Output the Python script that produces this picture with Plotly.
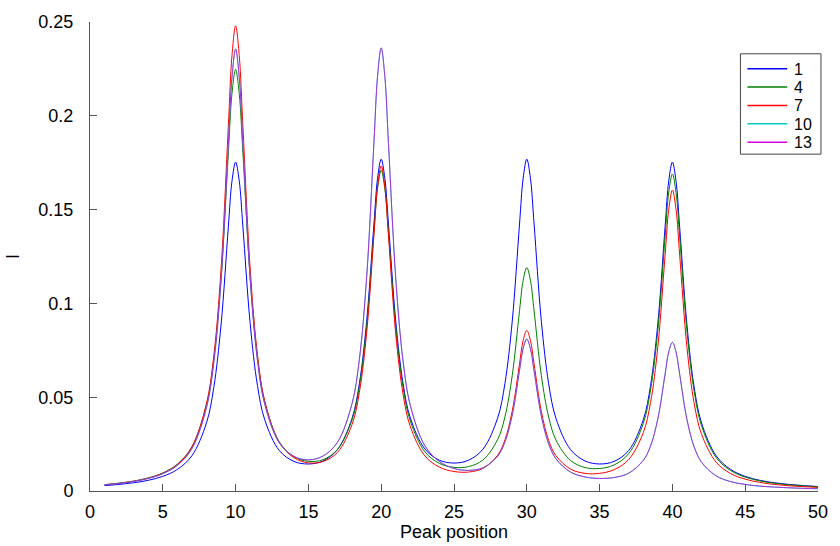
import plotly.graph_objects as go

# Peak position grid (denser sampling around the four peaks)
x_pos = [1, 2, 3, 4, 5, 6, 7,
         8, 8.5, 9, 9.5, 9.75, 10, 10.25, 10.5, 11, 11.5, 12,
         13, 14, 15, 16, 17,
         18, 18.5, 19, 19.5, 19.75, 20, 20.25, 20.5, 21, 21.5, 22,
         23, 24, 25, 26, 27,
         28, 28.5, 29, 29.5, 29.75, 30, 30.25, 30.5, 31, 31.5, 32,
         33, 34, 35, 36, 37,
         38, 38.5, 39, 39.5, 39.75, 40, 40.25, 40.5, 41, 41.5, 42,
         43, 44, 45, 46, 47, 48, 49, 50]

series_names = ["1", "4", "7", "10", "13"]

s1 = [0.0029, 0.0035, 0.0044, 0.0057, 0.0078, 0.0115, 0.0188,
      0.0363, 0.0551, 0.0885, 0.1406, 0.1651, 0.1753, 0.1653, 0.1410, 0.0893, 0.0563, 0.0380,
      0.0216, 0.0158, 0.0144, 0.0160, 0.0221,
      0.0388, 0.0573, 0.0904, 0.1423, 0.1667, 0.1769, 0.1667, 0.1423, 0.0905, 0.0574, 0.0390,
      0.0224, 0.0164, 0.0149, 0.0164, 0.0224,
      0.0390, 0.0574, 0.0905, 0.1423, 0.1667, 0.1769, 0.1667, 0.1423, 0.0904, 0.0573, 0.0388,
      0.0221, 0.0160, 0.0144, 0.0158, 0.0216,
      0.0380, 0.0563, 0.0893, 0.1410, 0.1653, 0.1753, 0.1651, 0.1406, 0.0885, 0.0551, 0.0363,
      0.0188, 0.0115, 0.0078, 0.0057, 0.0044, 0.0035, 0.0029, 0.0024]

s4 = [0.0034, 0.0042, 0.0053, 0.0070, 0.0096, 0.0143, 0.0236,
      0.0461, 0.0702, 0.1132, 0.1801, 0.2117, 0.2248, 0.2118, 0.1805, 0.1139, 0.0713, 0.0477,
      0.0262, 0.0183, 0.0158, 0.0167, 0.0222,
      0.0380, 0.0557, 0.0876, 0.1376, 0.1612, 0.1710, 0.1611, 0.1375, 0.0873, 0.0552, 0.0373,
      0.0209, 0.0147, 0.0126, 0.0130, 0.0166,
      0.0275, 0.0396, 0.0616, 0.0961, 0.1123, 0.1191, 0.1123, 0.0960, 0.0615, 0.0395, 0.0272,
      0.0163, 0.0125, 0.0120, 0.0139, 0.0199,
      0.0360, 0.0538, 0.0857, 0.1357, 0.1593, 0.1690, 0.1591, 0.1354, 0.0852, 0.0529, 0.0348,
      0.0179, 0.0109, 0.0074, 0.0054, 0.0041, 0.0033, 0.0027, 0.0023]

s7 = [0.0033, 0.0041, 0.0052, 0.0068, 0.0095, 0.0141, 0.0235,
      0.0466, 0.0718, 0.1182, 0.1943, 0.2319, 0.2480, 0.2321, 0.1946, 0.1188, 0.0728, 0.0480,
      0.0259, 0.0178, 0.0150, 0.0157, 0.0206,
      0.0355, 0.0525, 0.0842, 0.1365, 0.1623, 0.1733, 0.1622, 0.1362, 0.0836, 0.0517, 0.0343,
      0.0187, 0.0127, 0.0104, 0.0101, 0.0121,
      0.0191, 0.0273, 0.0426, 0.0678, 0.0803, 0.0856, 0.0803, 0.0677, 0.0424, 0.0270, 0.0188,
      0.0117, 0.0094, 0.0094, 0.0114, 0.0168,
      0.0311, 0.0472, 0.0769, 0.1259, 0.1501, 0.1604, 0.1500, 0.1257, 0.0765, 0.0465, 0.0303,
      0.0154, 0.0093, 0.0063, 0.0046, 0.0035, 0.0028, 0.0023, 0.0019]

s10 = [0.0033, 0.0040, 0.0051, 0.0067, 0.0092, 0.0137, 0.0226,
       0.0445, 0.0684, 0.1124, 0.1846, 0.2203, 0.2355, 0.2205, 0.1851, 0.1133, 0.0698, 0.0464,
       0.0257, 0.0185, 0.0166, 0.0186, 0.0260,
       0.0467, 0.0702, 0.1138, 0.1856, 0.2211, 0.2362, 0.2210, 0.1853, 0.1132, 0.0694, 0.0456,
       0.0241, 0.0157, 0.0120, 0.0110, 0.0124,
       0.0186, 0.0262, 0.0405, 0.0643, 0.0760, 0.0810, 0.0759, 0.0640, 0.0399, 0.0252, 0.0172,
       0.0101, 0.0075, 0.0067, 0.0072, 0.0095,
       0.0163, 0.0240, 0.0385, 0.0624, 0.0742, 0.0792, 0.0741, 0.0622, 0.0381, 0.0234, 0.0154,
       0.0081, 0.0050, 0.0035, 0.0026, 0.0021, 0.0017, 0.0014, 0.0012]

s13 = [0.0033, 0.0040, 0.0051, 0.0067, 0.0092, 0.0137, 0.0226,
       0.0445, 0.0684, 0.1124, 0.1846, 0.2203, 0.2355, 0.2205, 0.1851, 0.1133, 0.0698, 0.0464,
       0.0257, 0.0185, 0.0166, 0.0186, 0.0260,
       0.0467, 0.0702, 0.1138, 0.1856, 0.2211, 0.2362, 0.2210, 0.1853, 0.1132, 0.0694, 0.0456,
       0.0241, 0.0157, 0.0120, 0.0110, 0.0124,
       0.0186, 0.0262, 0.0405, 0.0643, 0.0760, 0.0810, 0.0759, 0.0640, 0.0399, 0.0252, 0.0172,
       0.0101, 0.0075, 0.0067, 0.0072, 0.0095,
       0.0163, 0.0240, 0.0385, 0.0624, 0.0742, 0.0792, 0.0741, 0.0622, 0.0381, 0.0234, 0.0154,
       0.0081, 0.0050, 0.0035, 0.0026, 0.0021, 0.0017, 0.0014, 0.0012]

x_ticks = [0, 5, 10, 15, 20, 25, 30, 35, 40, 45, 50]
y_ticks = [0, 0.05, 0.1, 0.15, 0.2, 0.25]
y_tick_labels = ["0", "0.05", "0.1", "0.15", "0.2", "0.25"]

all_series = [s1, s4, s7, s10, s13]
colors = ["#0000ff", "#008000", "#ff0000", "#00c8c8", "#dc00dc"]
opacities = [1, 1, 1, 1, 0.75]

FONT = "Liberation Sans, Arial, Helvetica, sans-serif"
W, H = 840, 546
ML, MR, MT, MB = 89, 19, 19, 55
PW, PH = W - ML - MR, H - MT - MB


def px_x(px):
    return (px - ML) / PW


def px_y(py):
    return (H - MB - py) / PH


fig = go.Figure()
for name, ys, col, op in zip(series_names, all_series, colors, opacities):
    fig.add_trace(go.Scatter(
        x=x_pos, y=ys, mode="lines", name=name,
        line=dict(color=col, width=1, shape="spline", smoothing=1.0),
        opacity=op, showlegend=False,
    ))

axis_col = "#555555"
fig.update_layout(
    width=W, height=H,
    margin=dict(l=ML, r=MR, t=MT, b=MB, pad=0),
    paper_bgcolor="white", plot_bgcolor="white",
    font=dict(family=FONT, size=18, color="black"),
    xaxis=dict(
        range=[0, 50], tickvals=x_ticks, ticks="inside", ticklen=7,
        tickcolor=axis_col, showline=True, linecolor=axis_col, linewidth=1,
        showgrid=False, zeroline=False, ticklabelstandoff=4,
        title=dict(text="Peak position", font=dict(size=18), standoff=0),
    ),
    yaxis=dict(
        range=[0, 0.25], tickvals=y_ticks, ticktext=y_tick_labels,
        ticks="inside", ticklen=7,
        tickcolor=axis_col, showline=True, linecolor=axis_col, linewidth=1,
        showgrid=False, zeroline=False, ticklabelstandoff=12,
        title=dict(text="I", font=dict(size=18), standoff=14),
    ),
)

# Legend box drawn manually (matches compact row spacing of the original)
fig.add_shape(type="rect", xref="paper", yref="paper",
              x0=px_x(743), x1=px_x(824), y0=px_y(152), y1=px_y(51),
              line=dict(color="#444444", width=1), fillcolor="white", layer="above")
row_y = [66, 84.5, 103, 121.5, 140]
for name, col, ry in zip(series_names, colors, row_y):
    fig.add_shape(type="line", xref="paper", yref="paper",
                  x0=px_x(750), x1=px_x(790), y0=px_y(ry), y1=px_y(ry),
                  line=dict(color=col, width=1.5), layer="above")
    fig.add_annotation(text=name, xref="paper", yref="paper",
                       x=px_x(795), y=px_y(ry + 0.5), xanchor="left", yanchor="middle",
                       showarrow=False, font=dict(family=FONT, size=16, color="black"))

fig.write_html("out.html")
